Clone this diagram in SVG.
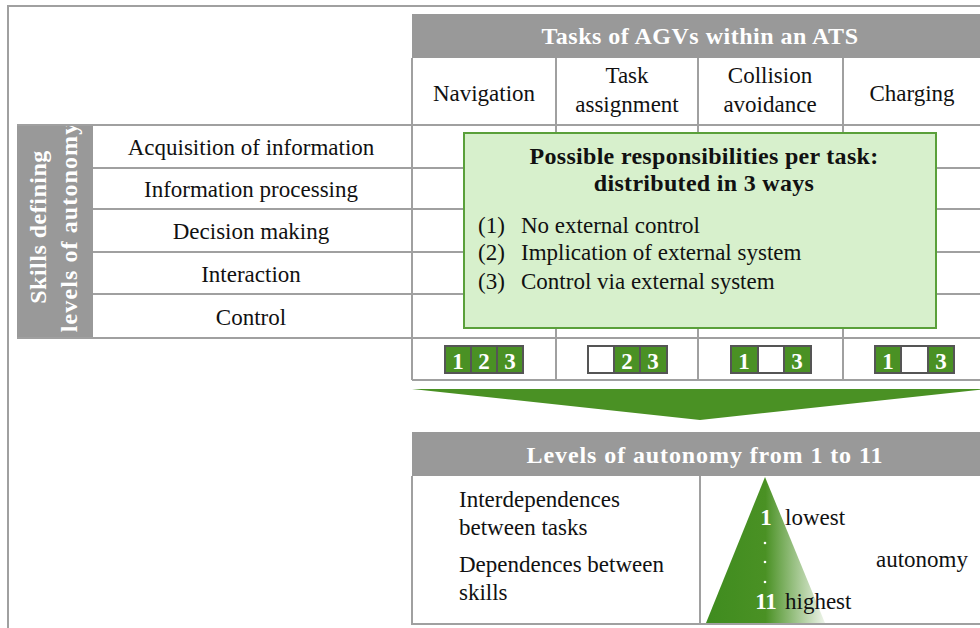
<svg xmlns="http://www.w3.org/2000/svg" width="980" height="628" viewBox="0 0 980 628">
<defs>
<style>
.ln{stroke:#a0a0a0;stroke-width:2;fill:none}
.hdr{fill:#999999}
.t{font-family:"Liberation Serif",serif;font-size:23px;fill:#111}
.c{text-anchor:middle}
.hb{font-family:"Liberation Serif",serif;font-size:24px;font-weight:bold;fill:#fff;text-anchor:middle;letter-spacing:0.5px}
.gb{font-family:"Liberation Serif",serif;font-size:24px;font-weight:bold;fill:#111;text-anchor:middle;letter-spacing:0.3px}
.cell{stroke:#555;stroke-width:2}
.on{fill:#4a9124}
.off{fill:#fff}
.num{font-family:"Liberation Serif",serif;font-size:23px;font-weight:bold;fill:#fff;text-anchor:middle}
.wb{font-family:"Liberation Serif",serif;font-size:23px;font-weight:bold;fill:#fff;text-anchor:middle}
</style>
<linearGradient id="pyr" x1="0" y1="0" x2="1" y2="0">
<stop offset="0" stop-color="#3f8c1f"/>
<stop offset="0.5" stop-color="#4a9124"/>
<stop offset="1" stop-color="#eef4ea"/>
</linearGradient>
</defs>
<rect width="980" height="628" fill="#fff"/>
<g id="frame">
<path class="ln" d="M8,628 V6 H980"/>
</g>
<g id="tasks-header">
<rect class="hdr" x="412" y="14" width="568" height="44"/>
<text class="hb" x="700" y="44">Tasks of AGVs within an ATS</text>
</g>
<g id="task-columns">
<path class="ln" d="M412,58 V380 M556,58 V380 M698,58 V380 M843,58 V380 M412,380 H980"/>
<text class="t c" x="484" y="101">Navigation</text>
<text class="t c" x="627" y="83">Task</text>
<text class="t c" x="627" y="112">assignment</text>
<text class="t c" x="770" y="83">Collision</text>
<text class="t c" x="770" y="112">avoidance</text>
<text class="t c" x="912" y="101">Charging</text>
</g>
<g id="skills">
<rect class="hdr" x="17" y="124" width="76" height="214"/>
<text class="hb" transform="translate(46,227) rotate(-90)">Skills defining</text>
<text class="hb" transform="translate(77,227) rotate(-90)" style="letter-spacing:1.1px">levels of autonomy</text>
<path class="ln" d="M17,125 H980 M93,168 H980 M93,209 H980 M93,252 H980 M93,294 H980 M17,338 H980"/>
<text class="t c" x="251" y="155">Acquisition of information</text>
<text class="t c" x="251" y="197">Information processing</text>
<text class="t c" x="251" y="239">Decision making</text>
<text class="t c" x="251" y="282">Interaction</text>
<text class="t c" x="251" y="325">Control</text>
</g>
<g id="responsibilities">
<rect x="464" y="133" width="472" height="195" fill="#d7f0cc" stroke="#5aa03a" stroke-width="2"/>
<text class="gb" x="704" y="164">Possible responsibilities per task:</text>
<text class="gb" x="704" y="191">distributed in 3 ways</text>
<text class="t" x="478" y="233">(1)</text><text class="t" x="521" y="233">No external control</text>
<text class="t" x="478" y="260">(2)</text><text class="t" x="521" y="260">Implication of external system</text>
<text class="t" x="478" y="289">(3)</text><text class="t" x="521" y="289">Control via external system</text>
</g>
<g id="options-navigation">
<rect class="cell on" x="445" y="346" width="26" height="27"/><rect class="cell on" x="471" y="346" width="26" height="27"/><rect class="cell on" x="497" y="346" width="26" height="27"/>
<text class="num" x="458" y="369">1</text><text class="num" x="484" y="369">2</text><text class="num" x="510" y="369">3</text>
</g>
<g id="options-task-assignment">
<rect class="cell off" x="588" y="346" width="26" height="27"/><rect class="cell on" x="614" y="346" width="26" height="27"/><rect class="cell on" x="640" y="346" width="27" height="27"/>
<text class="num" x="627" y="369">2</text><text class="num" x="653" y="369">3</text>
</g>
<g id="options-collision">
<rect class="cell on" x="731" y="346" width="27" height="27"/><rect class="cell off" x="758" y="346" width="26" height="27"/><rect class="cell on" x="784" y="346" width="27" height="27"/>
<text class="num" x="744" y="369">1</text><text class="num" x="797" y="369">3</text>
</g>
<g id="options-charging">
<rect class="cell on" x="875" y="346" width="26" height="27"/><rect class="cell off" x="901" y="346" width="27" height="27"/><rect class="cell on" x="928" y="346" width="26" height="27"/>
<text class="num" x="888" y="369">1</text><text class="num" x="941" y="369">3</text>
</g>
<g id="connectors">
<polygon points="412,389 988,389 700,420" fill="#4a9124"/>
</g>
<g id="levels">
<rect class="hdr" x="412" y="432" width="568" height="44"/>
<text class="hb" x="705" y="463" style="letter-spacing:0.9px">Levels of autonomy from 1 to 11</text>
<path class="ln" d="M412,476 V624 H980 M700,476 V624"/>
<text class="t" x="459" y="507">Interdependences</text>
<text class="t" x="459" y="535">between tasks</text>
<text class="t" x="459" y="572">Dependences between</text>
<text class="t" x="459" y="600">skills</text>
<polygon points="765,477 825,623 706,623" fill="url(#pyr)"/>
<text class="wb" x="766" y="525">1</text>
<circle cx="765" cy="543" r="1.3" fill="#fff"/>
<circle cx="765" cy="562" r="1.3" fill="#fff"/>
<circle cx="765" cy="582" r="1.3" fill="#fff"/>
<text class="wb" x="766" y="609">11</text>
<text class="t" x="785" y="525">lowest</text>
<text class="t" x="785" y="609">highest</text>
<text class="t" x="876" y="567">autonomy</text>
</g>
</svg>
